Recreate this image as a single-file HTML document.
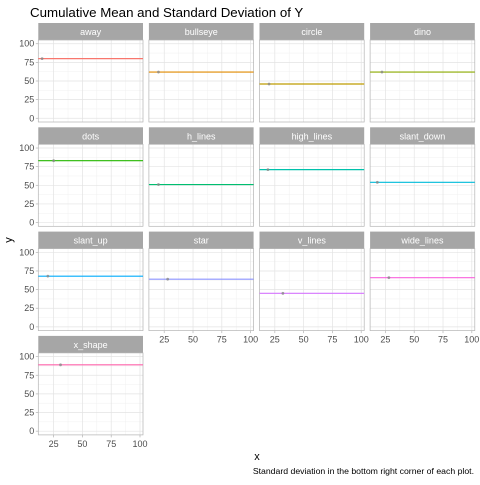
<!DOCTYPE html>
<html><head><meta charset="utf-8"><style>
body{margin:0;background:#fff;width:480px;height:480px;overflow:hidden;font-family:"Liberation Sans",sans-serif}
</style></head><body>
<svg id="chart" width="480" height="480" xmlns="http://www.w3.org/2000/svg" font-family="Liberation Sans, sans-serif">
<text x="30" y="17" font-size="13.3" fill="#000">Cumulative Mean and Standard Deviation of Y</text>
<text x="12" y="240" font-size="11" transform="rotate(-90 12 240)" text-anchor="middle">y</text>
<text x="257" y="460" font-size="11" text-anchor="middle">x</text>
<text x="474" y="474" font-size="8.7" text-anchor="end">Standard deviation in the bottom right corner of each plot.</text>
</svg>
<script>
const categories=["away","bullseye","circle","dino","dots","h_lines","high_lines","slant_down","slant_up","star","v_lines","wide_lines","x_shape"];
const meanValues=[80,62,46,62,83,51,71,54,68,64,45,66,89];
const pointX=[15,20,20,22,25,20,19,18,20,28,32,28,31];
const colors=["#F8766D","#E18A00","#BE9C00","#8CAB00","#24B700","#00BE70","#00C1AB","#00BBDA","#00ACFC","#8B93FF","#D575FE","#F962DD","#FF65AC"];
const xTicks=[25,50,75,100];
const yTicks=[0,25,50,75,100];
const svg=document.getElementById('chart');
const NS='http://www.w3.org/2000/svg';
const X0=11.7,X1=102.6,Y0=-5,Y1=105;
const colL=38.3,colStep=110.6,pw=104.7,rowT=40,rowStep=104.3,ph=82,sh=17;
function mk(t,a,p){const e=document.createElementNS(NS,t);for(const k in a)e.setAttribute(k,a[k]);(p||svg).appendChild(e);return e;}
categories.forEach((c,i)=>{
  const col=i%4,row=Math.floor(i/4);
  const left=colL+col*colStep,top=rowT+row*rowStep;
  const sx=v=>left+(v-X0)/(X1-X0)*pw;
  const sy=v=>top+ph-(v-Y0)/(Y1-Y0)*ph;
  const g=mk('g',{});
  
  
  const strip=mk('rect',{x:left,y:top-sh,width:pw,height:sh,fill:'#A6A6A6'},g);
  
  
  const st=mk('text',{x:left+pw/2,y:top-5,'font-size':9,fill:'#fff','text-anchor':'middle'},g);
  st.textContent=c;
  
  
  [12.5,37.5,62.5,87.5].forEach(v=>{mk('line',{x1:left,x2:left+pw,y1:sy(v),y2:sy(v),stroke:'#f0f0f0','stroke-width':0.5},g);});
  [37.5,62.5,87.5].forEach(v=>{mk('line',{x1:sx(v),x2:sx(v),y1:top,y2:top+ph,stroke:'#f0f0f0','stroke-width':0.5},g);});
  yTicks.forEach(v=>{mk('line',{x1:left,x2:left+pw,y1:sy(v),y2:sy(v),stroke:'#e3e3e3','stroke-width':0.7},g);});
  xTicks.forEach(v=>{mk('line',{x1:sx(v),x2:sx(v),y1:top,y2:top+ph,stroke:'#e3e3e3','stroke-width':0.7},g);});
  mk('rect',{x:left,y:top,width:pw,height:ph,fill:'none',stroke:'#b3b3b3','stroke-width':0.7},g);
  const ln=mk('line',{x1:left,x2:left+pw,y1:sy(meanValues[i]),y2:sy(meanValues[i]),stroke:colors[i],'stroke-width':1.2},g);
  
  
  const pt=mk('circle',{cx:sx(pointX[i]),cy:sy(meanValues[i]),r:1.4,fill:'#888','fill-opacity':0.8},g);
  
  
  if(col===0){yTicks.forEach(v=>{
    mk('line',{x1:left-2.5,x2:left,y1:sy(v),y2:sy(v),stroke:'#b3b3b3','stroke-width':0.7},g);
    const t=mk('text',{x:left-4,y:sy(v)+3,'font-size':9,fill:'#4d4d4d','text-anchor':'end'},g);t.textContent=v;
    
    
  });}
  const last=(row===3)||(row===2&&col>0);
  if(last){xTicks.forEach(v=>{
    mk('line',{x1:sx(v),x2:sx(v),y1:top+ph,y2:top+ph+2.5,stroke:'#b3b3b3','stroke-width':0.7},g);
    const t=mk('text',{x:sx(v),y:top+ph+12,'font-size':9,fill:'#4d4d4d','text-anchor':'middle'},g);t.textContent=v;
    
    
  });}
});
</script>
</body></html>
